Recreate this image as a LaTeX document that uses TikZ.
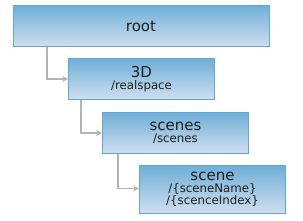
\documentclass[tikz,border=0pt]{standalone}
\usepackage{fontspec}
\setmainfont{DejaVu Sans}
\usetikzlibrary{arrows.meta}
\definecolor{boxtop}{HTML}{6FAFD7}
\definecolor{boxbot}{HTML}{D0DEEF}
\definecolor{boxline}{HTML}{64A6D3}
\definecolor{conn}{HTML}{B4B4B4}
\definecolor{txt}{HTML}{1E1E1E}
\tikzset{
  box/.style={draw=boxline, line width=1pt, top color=boxtop, bottom color=boxbot,
    anchor=north west, inner sep=0pt, align=center, text=txt},
  link/.style={draw=conn, line width=1.6pt, -{Stealth[length=6pt,width=6pt]}},
}
\newcommand{\ttl}[1]{{\fontsize{15}{16}\selectfont #1}}
\newcommand{\sub}[1]{{\fontsize{11.8}{14}\selectfont #1}}
\begin{document}
\begin{tikzpicture}[x=1pt,y=-1pt]
\useasboundingbox (0,0) rectangle (303,220);
\node[box, minimum width=256pt, minimum height=41pt] (root) at (12.5,5) {\ttl{root}};
\node[box, minimum width=146pt, minimum height=41pt] (d3) at (68,58) {\ttl{3D}\\[0pt]\sub{/realspace}};
\node[box, minimum width=146pt, minimum height=41pt] (scenes) at (102,112) {\ttl{scenes}\\[0pt]\sub{/scenes}};
\node[box, minimum width=146pt, minimum height=48pt] (scene) at (139,165) {\ttl{scene}\\[0pt]\sub{/\{sceneName\}}\\[0pt]\sub{/\{scenceIndex\}}};
\draw[link] ([xshift=34.5pt]root.south west) |- (d3.west);
\draw[link] ([xshift=13pt]d3.south west) |- (scenes.west);
\draw[link] ([xshift=16pt]scenes.south west) |- ([yshift=1pt]scene.west);
\end{tikzpicture}
\end{document}
